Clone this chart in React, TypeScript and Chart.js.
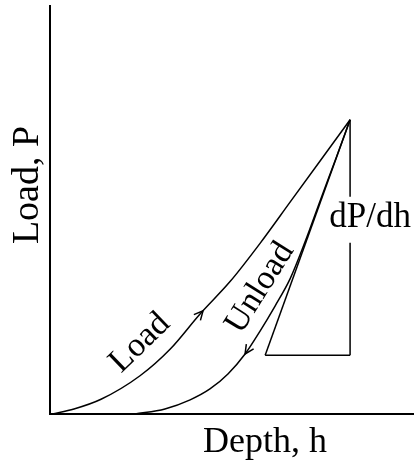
import React, { useEffect, useRef } from "react";
import { Chart, registerables } from "chart.js";

Chart.register(...registerables);

// Load branch (depth h, load P)
const loadDepth = [0.07, 0.8, 1.7, 3.0, 4.0, 5.0, 6.0, 7.0, 8.0, 9.0, 10.0];
const loadForce = [0, 0.17, 0.5, 1.3, 2.2, 3.4, 4.5, 5.8, 7.2, 8.6, 10.0];

// Unload branch
const unloadDepth = [2.83, 3.83, 4.67, 5.33, 5.93, 6.5, 7.0, 7.5, 8.0, 8.5, 9.0, 9.5, 10.0];
const unloadForce = [0, 0.17, 0.48, 0.85, 1.36, 2.04, 2.82, 3.67, 4.59, 5.85, 7.24, 8.61, 10.0];

// Slope triangle (dP/dh)
const tangentDepth = [10.0, 7.17];
const tangentForce = [10.0, 2.0];
const baseDepth = [7.17, 10.0];
const baseForce = [2.0, 2.0];
const riseUpperDepth = [10.0, 10.0];
const riseUpperForce = [10.0, 7.38];
const riseLowerDepth = [10.0, 10.0];
const riseLowerForce = [5.82, 2.0];

// Arrow tips on the curves
const loadArrowDepth = 5.1;
const unloadArrowDepth = 6.5;

const xTitle = "Depth, h";
const yTitle = "Load, P";
const loadLabel = "Load";
const unloadLabel = "Unload";
const slopeLabel = "dP/dh";

const X_MAX = 12.13;
const Y_MAX = 13.9;

const FAMILY = "'Liberation Serif', 'Times New Roman', serif";

const pts = (xs: number[], ys: number[]) => xs.map((x, i) => ({ x, y: ys[i] }));

const interp = (xs: number[], ys: number[], x: number) => {
  for (let i = 0; i < xs.length - 1; i++) {
    if (x >= xs[i] && x <= xs[i + 1]) {
      const t = (x - xs[i]) / (xs[i + 1] - xs[i]);
      return ys[i] + t * (ys[i + 1] - ys[i]);
    }
  }
  return ys[ys.length - 1];
};

const annotatePlugin = {
  id: "annotate",
  afterDatasetsDraw(chart: any) {
    const { ctx, chartArea, scales } = chart;
    const xs = scales.x;
    const ys = scales.y;
    const px = (v: number) => xs.getPixelForValue(v);
    const py = (v: number) => ys.getPixelForValue(v);
    ctx.save();
    // axes
    ctx.strokeStyle = "#000";
    ctx.lineWidth = 2;
    ctx.beginPath();
    ctx.moveTo(chartArea.left, chartArea.top);
    ctx.lineTo(chartArea.left, chartArea.bottom);
    ctx.lineTo(chartArea.right, chartArea.bottom);
    ctx.stroke();

    // arrows
    const arrow = (xsArr: number[], ysArr: number[], h: number, dir: number) => {
      const tipX = px(h);
      const tipY = py(interp(xsArr, ysArr, h));
      const backH = h - dir * 0.4;
      const bx = px(backH);
      const by = py(interp(xsArr, ysArr, backH));
      const ang = Math.atan2(tipY - by, tipX - bx);
      const len = 10;
      const spread = 0.45;
      ctx.lineWidth = 1.5;
      ctx.beginPath();
      ctx.moveTo(tipX - len * Math.cos(ang - spread), tipY - len * Math.sin(ang - spread));
      ctx.lineTo(tipX, tipY);
      ctx.lineTo(tipX - len * Math.cos(ang + spread), tipY - len * Math.sin(ang + spread));
      ctx.stroke();
    };
    arrow(loadDepth, loadForce, loadArrowDepth, 1);
    arrow(unloadDepth, unloadForce, unloadArrowDepth, -1);

    ctx.fillStyle = "#000";
    // rotated curve labels
    ctx.font = `34px ${FAMILY}`;
    const rotText = (t: string, x: number, y: number, deg: number) => {
      ctx.save();
      ctx.translate(x, y);
      ctx.rotate((deg * Math.PI) / 180);
      ctx.textAlign = "center";
      ctx.textBaseline = "middle";
      ctx.fillText(t, 0, 0);
      ctx.restore();
    };
    rotText(loadLabel, px(3.0), py(2.41), -44);
    rotText(unloadLabel, px(7.0), py(4.29), -58);

    // slope label
    ctx.font = `35px ${FAMILY}`;
    ctx.textAlign = "center";
    ctx.textBaseline = "alphabetic";
    ctx.fillText(slopeLabel, px(10.67), py(6.36));

    // axis titles
    ctx.font = `36px ${FAMILY}`;
    ctx.fillText(xTitle, (chartArea.left + chartArea.right) / 2 + 33, chartArea.bottom + 38);
    ctx.save();
    ctx.font = `38px ${FAMILY}`;
    ctx.translate(chartArea.left - 12, chartArea.top + 180);
    ctx.rotate(-Math.PI / 2);
    ctx.fillText(yTitle, 0, 0);
    ctx.restore();
    ctx.restore();
  },
};

export default function App() {
  const ref = useRef<HTMLCanvasElement | null>(null);
  useEffect(() => {
    document.body.style.margin = "0";
    const canvas = ref.current;
    if (!canvas) return;
    const line = (data: any[], curve: boolean) => ({
      data,
      showLine: true,
      borderColor: "#000",
      backgroundColor: "#000",
      borderWidth: 1.5,
      pointRadius: 0,
      pointHoverRadius: 0,
      fill: false,
      clip: false as any,
      tension: curve ? 0.4 : 0,
      cubicInterpolationMode: curve ? ("monotone" as const) : ("default" as const),
    });
    const chart = new Chart(canvas, {
      type: "scatter",
      data: {
        datasets: [
          line(pts(loadDepth, loadForce), true),
          line(pts(unloadDepth, unloadForce), true),
          line(pts(tangentDepth, tangentForce), false),
          line(pts(baseDepth, baseForce), false),
          line(pts(riseUpperDepth, riseUpperForce), false),
          line(pts(riseLowerDepth, riseLowerForce), false),
        ],
      },
      options: {
        responsive: false,
        animation: false,
        layout: { padding: { left: 50, top: 5, right: 0, bottom: 48 } },
        plugins: { legend: { display: false }, tooltip: { enabled: false } },
        scales: {
          x: { type: "linear", min: 0, max: X_MAX, display: false },
          y: { type: "linear", min: 0, max: Y_MAX, display: false },
        },
      },
      plugins: [annotatePlugin],
    });
    return () => chart.destroy();
  }, []);
  return (
    <div style={{ width: 414, height: 462, background: "#fff" }}>
      <canvas ref={ref} width={414} height={462} style={{ display: "block" }} />
    </div>
  );
}
